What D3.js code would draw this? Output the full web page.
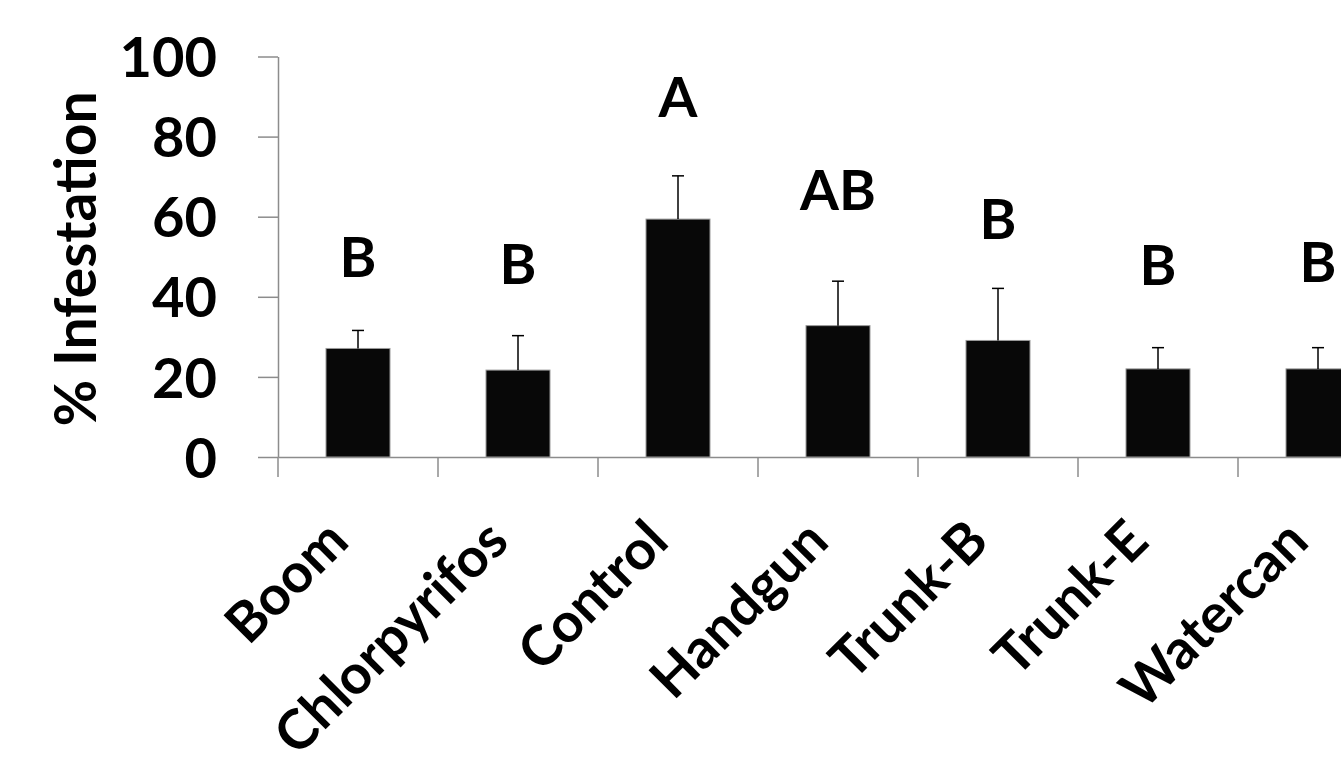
<!DOCTYPE html>
<html>
<head>
<meta charset="utf-8">
<script src="https://cdn.jsdelivr.net/npm/d3@7"></script>
<style>
  html, body { margin: 0; padding: 0; background: #fff; }
  svg text { font-family: Lato, "Open Sans", sans-serif; font-weight: bold; fill: #000; }
</style>
</head>
<body>
<div id="chart"></div>
<script>
// treatments and mean % infestation with upper error (SE)
const treatments = ['Boom', 'Chlorpyrifos', 'Control', 'Handgun', 'Trunk-B', 'Trunk-E', 'Watercan'];
const means = [27.1, 21.7, 59.4, 32.8, 29.1, 22.0, 22.0];
const errors = [4.5, 8.6, 10.8, 11.1, 13.0, 5.3, 5.3];
// significance letters and the level (in % units) they sit at
const letters = ['B', 'B', 'A', 'AB', 'B', 'B', 'B'];
const letterLevels = [45.0, 43.1, 84.9, 61.6, 54.5, 42.9, 43.7];
const yTicks = [0, 20, 40, 60, 80, 100];

const width = 1341;
const height = 765;
const axisColor = '#8c8c8c';

const svg = d3.select('#chart')
  .append('svg')
  .attr('width', width)
  .attr('height', height)
  .attr('viewBox', `0 0 ${width} ${height}`);

// band scale runs past the right edge, like the original crop
const x = d3.scaleBand()
  .domain(treatments)
  .range([278, 1398])
  .paddingInner(0.6)
  .paddingOuter(0.3);

const y = d3.scaleLinear()
  .domain([0, 100])
  .range([457, 56.5]);

const bw = x.bandwidth();
const gap = (x.step() - bw) / 2;

// Y axis
const yAxis = svg.append('g')
  .attr('transform', `translate(${x.range()[0]},0)`)
  .call(d3.axisLeft(y).tickValues(yTicks).tickSize(20).tickPadding(41).tickSizeOuter(0));

yAxis.select('.domain').attr('stroke', axisColor).attr('stroke-width', 1.5);
yAxis.selectAll('.tick line').attr('stroke', axisColor).attr('stroke-width', 1.5);
yAxis.selectAll('.tick text')
  .attr('font-size', '56px')
  .attr('dy', '0.36em')
  .attr('fill', '#000');

// X axis line
const xAxis = svg.append('g')
  .attr('transform', `translate(0,${y(0)})`)
  .call(d3.axisBottom(x).tickSize(0).tickFormat(''));

xAxis.select('.domain').attr('stroke', axisColor).attr('stroke-width', 1.5);

// category boundary ticks
svg.append('g')
  .selectAll('line')
  .data(treatments)
  .join('line')
  .attr('x1', d => x(d) - gap)
  .attr('x2', d => x(d) - gap)
  .attr('y1', y(0))
  .attr('y2', y(0) + 20)
  .attr('stroke', axisColor)
  .attr('stroke-width', 1.5);

// bars
svg.append('g')
  .selectAll('rect')
  .data(treatments)
  .join('rect')
  .attr('x', d => x(d))
  .attr('y', (d, i) => y(means[i]))
  .attr('width', bw)
  .attr('height', (d, i) => y(0) - y(means[i]))
  .attr('fill', '#080808')
  .attr('stroke', '#9a9a9a')
  .attr('stroke-width', 1);

// error bars (upper only)
const err = svg.append('g')
  .selectAll('g')
  .data(treatments)
  .join('g');

err.append('line')
  .attr('x1', d => x(d) + bw / 2)
  .attr('x2', d => x(d) + bw / 2)
  .attr('y1', (d, i) => y(means[i]))
  .attr('y2', (d, i) => y(means[i] + errors[i]))
  .attr('stroke', '#000')
  .attr('stroke-width', 1.5);

err.append('line')
  .attr('x1', d => x(d) + bw / 2 - 6)
  .attr('x2', d => x(d) + bw / 2 + 6)
  .attr('y1', (d, i) => y(means[i] + errors[i]))
  .attr('y2', (d, i) => y(means[i] + errors[i]))
  .attr('stroke', '#000')
  .attr('stroke-width', 1.5);

// significance letters
svg.append('g')
  .selectAll('text')
  .data(treatments)
  .join('text')
  .attr('x', d => x(d) + bw / 2)
  .attr('y', (d, i) => y(letterLevels[i]))
  .attr('text-anchor', 'middle')
  .attr('font-size', '56px')
  .text((d, i) => letters[i]);

// rotated category labels
svg.append('g')
  .selectAll('text')
  .data(treatments)
  .join('text')
  .attr('transform', d => `translate(${x(d) + bw / 2 - 7},544) rotate(-45)`)
  .attr('text-anchor', 'end')
  .attr('font-size', '55px')
  .text(d => d);

// y axis title
svg.append('text')
  .attr('transform', 'translate(96,259) rotate(-90)')
  .attr('text-anchor', 'middle')
  .attr('font-size', '57px')
  .text('% Infestation');
</script>
</body>
</html>
